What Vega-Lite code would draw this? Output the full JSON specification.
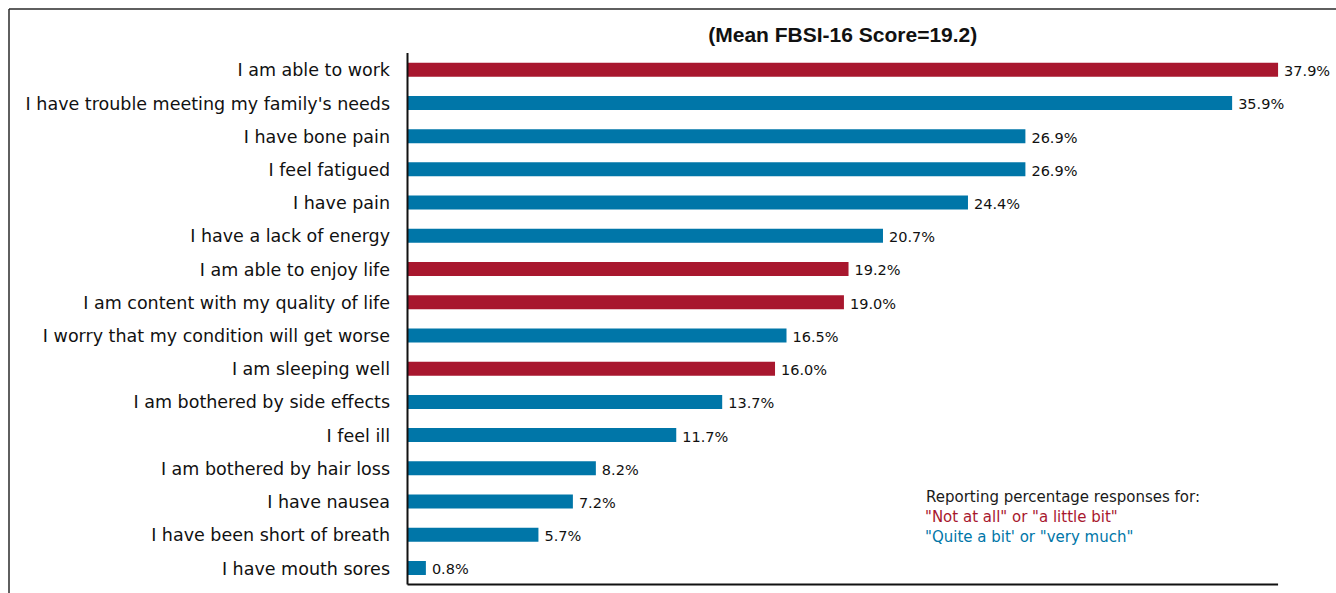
{
  "$schema": "https://vega.github.io/schema/vega-lite/v6.json",
  "width": 1327,
  "height": 584,
  "autosize": {"type": "none"},
  "padding": {"left": 9, "top": 9, "right": 0, "bottom": 0},
  "background": "white",
  "config": {"view": {"stroke": null}},
  "data": {
    "values": [
      {"rank": 1, "item": "I am able to work", "value": 0.379, "response": "\"Not at all\" or \"a little bit\""},
      {"rank": 2, "item": "I have trouble meeting my family's needs", "value": 0.359, "response": "\"Quite a bit' or \"very much\""},
      {"rank": 3, "item": "I have bone pain", "value": 0.269, "response": "\"Quite a bit' or \"very much\""},
      {"rank": 4, "item": "I feel fatigued", "value": 0.269, "response": "\"Quite a bit' or \"very much\""},
      {"rank": 5, "item": "I have pain", "value": 0.244, "response": "\"Quite a bit' or \"very much\""},
      {"rank": 6, "item": "I have a lack of energy", "value": 0.207, "response": "\"Quite a bit' or \"very much\""},
      {"rank": 7, "item": "I am able to enjoy life", "value": 0.192, "response": "\"Not at all\" or \"a little bit\""},
      {"rank": 8, "item": "I am content with my quality of life", "value": 0.190, "response": "\"Not at all\" or \"a little bit\""},
      {"rank": 9, "item": "I worry that my condition will get worse", "value": 0.165, "response": "\"Quite a bit' or \"very much\""},
      {"rank": 10, "item": "I am sleeping well", "value": 0.160, "response": "\"Not at all\" or \"a little bit\""},
      {"rank": 11, "item": "I am bothered by side effects", "value": 0.137, "response": "\"Quite a bit' or \"very much\""},
      {"rank": 12, "item": "I feel ill", "value": 0.117, "response": "\"Quite a bit' or \"very much\""},
      {"rank": 13, "item": "I am bothered by hair loss", "value": 0.082, "response": "\"Quite a bit' or \"very much\""},
      {"rank": 14, "item": "I have nausea", "value": 0.072, "response": "\"Quite a bit' or \"very much\""},
      {"rank": 15, "item": "I have been short of breath", "value": 0.057, "response": "\"Quite a bit' or \"very much\""},
      {"rank": 16, "item": "I have mouth sores", "value": 0.008, "response": "\"Quite a bit' or \"very much\""}
    ]
  },
  "layer": [
    {
      "data": {"values": [{}]},
      "mark": {"type": "rule", "stroke": "#2a2a2a", "strokeWidth": 1.5},
      "encoding": {
        "x": {"datum": -0.17349, "type": "quantitative", "scale": {"domain": [-0.17349, 0.40422], "nice": false, "zero": false, "padding": 0}, "axis": null}
      }
    },
    {
      "data": {"values": [{}]},
      "mark": {"type": "rule", "stroke": "#2a2a2a", "strokeWidth": 1.5},
      "encoding": {
        "y": {"datum": -0.8272, "type": "quantitative", "scale": {"domain": [-0.8272, 16.753], "reverse": true, "nice": false, "zero": false, "padding": 0}, "axis": null}
      }
    },
    {
      "mark": {"type": "bar", "orient": "horizontal", "size": 14},
      "encoding": {
        "x": {"field": "value", "type": "quantitative", "scale": {"domain": [-0.17349, 0.40422], "nice": false, "zero": false, "padding": 0}, "axis": null},
        "x2": {"datum": 0},
        "y": {"field": "rank", "type": "quantitative", "scale": {"domain": [-0.8272, 16.753], "reverse": true, "nice": false, "zero": false, "padding": 0}, "axis": null},
        "color": {
          "field": "response",
          "type": "nominal",
          "scale": {"domain": ["\"Not at all\" or \"a little bit\"", "\"Quite a bit' or \"very much\""], "range": ["#A8172E", "#0076A8"]},
          "legend": {
            "orient": "none",
            "legendX": 917,
            "legendY": 481,
            "title": "Reporting percentage responses for:",
            "titleFont": "DejaVu Sans",
            "titleFontSize": 15,
            "titleFontWeight": "normal",
            "titleColor": "#1a1a1a",
            "titleLimit": 400,
            "titlePadding": 4,
            "labelFont": "DejaVu Sans",
            "labelFontSize": 15,
            "labelLimit": 400,
            "labelOffset": -16,
            "symbolSize": 0,
            "symbolOpacity": 0,
            "symbolStrokeWidth": 0,
            "rowPadding": 4,
            "padding": 0,
            "encode": {"labels": {"update": {"fill": {"scale": "color", "field": "value"}}}}
          }
        }
      }
    },
    {
      "data": {"values": [{}]},
      "mark": {"type": "rule", "stroke": "#111111", "strokeWidth": 2},
      "encoding": {
        "x": {"datum": 0, "type": "quantitative"},
        "y": {"datum": 0.5, "type": "quantitative"},
        "y2": {"datum": 16.5}
      }
    },
    {
      "data": {"values": [{}]},
      "mark": {"type": "rule", "stroke": "#111111", "strokeWidth": 2},
      "encoding": {
        "x": {"datum": 0, "type": "quantitative"},
        "x2": {"datum": 0.379},
        "y": {"datum": 16.5, "type": "quantitative"}
      }
    },
    {
      "data": {"values": [{}]},
      "mark": {"type": "text", "align": "center", "baseline": "alphabetic", "font": "Liberation Sans", "fontSize": 21, "fontWeight": "bold", "color": "#111111"},
      "encoding": {
        "x": {"datum": 0.1895, "type": "quantitative"},
        "y": {"datum": 0.166, "type": "quantitative"},
        "text": {"value": "(Mean FBSI-16 Score=19.2)"}
      }
    },
    {
      "mark": {"type": "text", "align": "right", "baseline": "alphabetic", "dx": -17.5, "dy": 6.6, "font": "DejaVu Sans", "fontSize": 17.5, "color": "#111111"},
      "encoding": {
        "x": {"datum": 0, "type": "quantitative"},
        "y": {"field": "rank", "type": "quantitative"},
        "text": {"field": "item", "type": "nominal"}
      }
    },
    {
      "mark": {"type": "text", "align": "left", "baseline": "alphabetic", "dx": 6, "dy": 6.4, "font": "DejaVu Sans", "fontSize": 14.5, "color": "#111111"},
      "encoding": {
        "x": {"field": "value", "type": "quantitative"},
        "y": {"field": "rank", "type": "quantitative"},
        "text": {"field": "value", "type": "quantitative", "format": ".1%"}
      }
    }
  ]
}
